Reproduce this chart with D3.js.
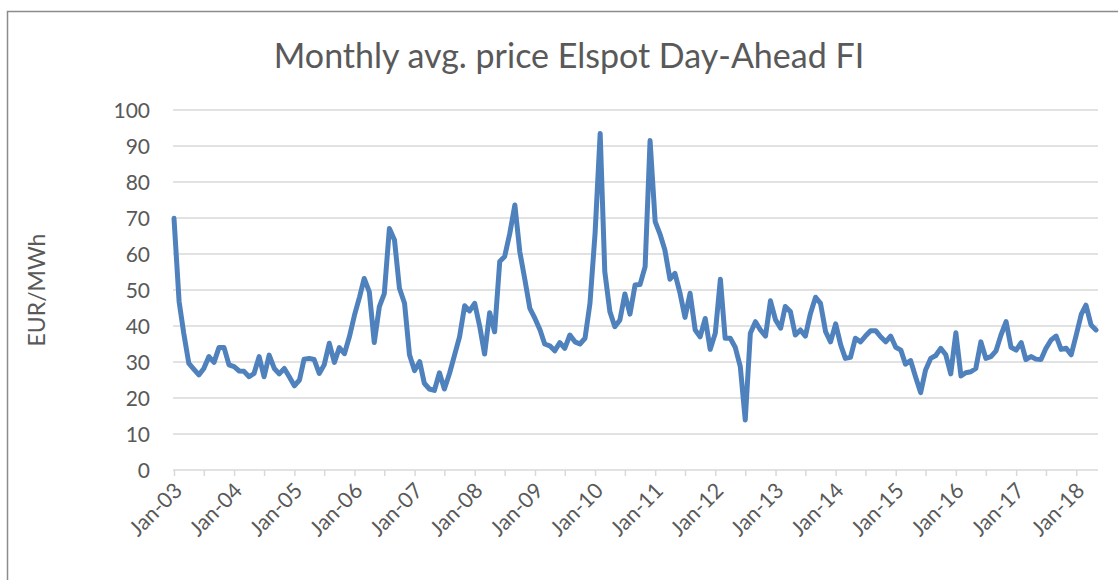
<!DOCTYPE html>
<html>
<head>
<meta charset="utf-8">
<script src="https://cdn.jsdelivr.net/npm/d3@7"></script>
<style>
  body { margin: 0; background: #fff; }
  text { font-family: Lato, "Open Sans", sans-serif; fill: #595959; }
</style>
</head>
<body>
<div id="chart"></div>
<script>
// monthly average price, EUR/MWh, Jan 2003 .. May 2018
const title = "Monthly avg. price Elspot Day-Ahead FI";
const yLabel = "EUR/MWh";
const firstMonth = new Date(2003, 0, 1);

const prices2003 = [69.9, 46.8, 38.0, 29.6, 28.0, 26.4, 28.2, 31.5, 29.9, 34.0, 34.0, 29.2];
const prices2004 = [28.7, 27.5, 27.4, 25.9, 26.8, 31.5, 25.9, 31.9, 28.2, 26.7, 28.2, 25.9];
const prices2005 = [23.4, 25.0, 30.8, 31.0, 30.7, 26.8, 29.2, 35.2, 29.9, 34.0, 32.3, 37.0];
const prices2006 = [43.0, 48.1, 53.2, 49.5, 35.4, 45.4, 49.0, 67.1, 63.9, 50.5, 46.3, 32.0];
const prices2007 = [27.6, 30.1, 24.1, 22.5, 22.1, 27.0, 22.5, 26.8, 32.0, 37.0, 45.6, 44.2];
const prices2008 = [46.3, 39.8, 32.2, 43.7, 38.4, 57.9, 59.3, 65.7, 73.6, 60.6, 52.8, 44.9];
const prices2009 = [42.1, 38.9, 35.0, 34.5, 33.1, 35.4, 33.8, 37.5, 35.6, 35.0, 36.6, 46.3];
const prices2010 = [65.7, 93.5, 55.1, 44.0, 39.8, 41.7, 48.9, 43.3, 51.4, 51.5, 56.5, 91.5];
const prices2011 = [69.0, 65.3, 61.1, 53.0, 54.6, 49.1, 42.4, 49.1, 38.9, 37.0, 42.1, 33.5];
const prices2012 = [38.0, 53.0, 36.6, 36.6, 34.1, 28.7, 13.9, 38.0, 41.2, 38.9, 37.2, 47.0];
const prices2013 = [41.7, 39.4, 45.4, 44.0, 37.5, 38.9, 37.2, 43.5, 48.0, 46.3, 38.4, 35.6];
const prices2014 = [40.6, 34.7, 31.0, 31.3, 36.6, 35.6, 37.2, 38.7, 38.7, 37.0, 35.6, 37.2];
const prices2015 = [34.1, 33.3, 29.4, 30.4, 25.9, 21.5, 27.8, 31.0, 31.8, 33.8, 32.0, 26.7];
const prices2016 = [38.1, 26.1, 27.0, 27.3, 28.2, 35.6, 31.0, 31.5, 33.1, 37.5, 41.2, 34.1];
const prices2017 = [33.3, 35.4, 30.7, 31.5, 30.8, 30.7, 33.8, 36.1, 37.2, 33.5, 33.8, 32.0];
const prices2018 = [37.5, 43.3, 45.8, 40.3, 38.9];

const yTicks = [0, 10, 20, 30, 40, 50, 60, 70, 80, 90, 100];

const prices = [].concat(prices2003, prices2004, prices2005, prices2006, prices2007,
    prices2008, prices2009, prices2010, prices2011, prices2012, prices2013,
    prices2014, prices2015, prices2016, prices2017, prices2018);

const data = prices.map((v, i) => ({ date: d3.timeMonth.offset(firstMonth, i), value: v }));

const width = 1118;
const height = 580;

const svg = d3.select("#chart").append("svg")
    .attr("width", width)
    .attr("height", height);

// chart frame
svg.append("rect")
    .attr("x", 7.5)
    .attr("y", 11.5)
    .attr("width", width + 10)
    .attr("height", height + 10)
    .attr("fill", "none")
    .attr("stroke", "#8c8c8c")
    .attr("stroke-width", 1.5);

const x = d3.scaleTime()
    .domain([firstMonth, data[data.length - 1].date])
    .range([174, 1096]);

const y = d3.scaleLinear()
    .domain([0, 100])
    .range([470, 110]);

// gridlines
svg.append("g")
    .selectAll("line")
    .data(yTicks.filter(d => d > 0))
    .join("line")
    .attr("x1", 173)
    .attr("x2", 1098)
    .attr("y1", d => y(d))
    .attr("y2", d => y(d))
    .attr("stroke", "#d9d9d9")
    .attr("stroke-width", 1.5);

// y tick labels
svg.append("g")
    .selectAll("text")
    .data(yTicks)
    .join("text")
    .attr("x", 150)
    .attr("y", d => y(d))
    .attr("dy", "0.36em")
    .attr("text-anchor", "end")
    .style("font-size", "21px")
    .text(d => d);

// x axis
const xAxis = d3.axisBottom(x)
    .ticks(d3.timeMonth.every(6))
    .tickSize(6)
    .tickFormat(d => d.getMonth() === 0 ? d3.timeFormat("%b-%y")(d) : "");

const gx = svg.append("g")
    .attr("transform", `translate(0,${y(0)})`)
    .call(xAxis);

gx.select(".domain")
    .attr("d", `M173,0H1098`)
    .attr("stroke", "#d9d9d9")
    .attr("stroke-width", 1.5);

gx.selectAll(".tick line")
    .attr("stroke", "#d9d9d9")
    .attr("stroke-width", 1.5);

gx.selectAll(".tick text")
    .attr("y", 0)
    .attr("dy", 0)
    .attr("text-anchor", "end")
    .attr("transform", "translate(9,22) rotate(-45)")
    .style("font-size", "21.5px")
    .style("font-family", "Lato, 'Open Sans', sans-serif")
    .attr("fill", "#595959");

// price line
const line = d3.line()
    .x(d => x(d.date))
    .y(d => y(d.value));

svg.append("path")
    .datum(data)
    .attr("d", line)
    .attr("fill", "none")
    .attr("stroke", "#4f81bd")
    .attr("stroke-width", 5)
    .attr("stroke-linejoin", "round")
    .attr("stroke-linecap", "round");

// title
svg.append("text")
    .attr("x", 569)
    .attr("y", 68)
    .attr("text-anchor", "middle")
    .style("font-size", "34px")
    .text(title);

// y axis label
svg.append("text")
    .attr("transform", "translate(45,290) rotate(-90)")
    .attr("text-anchor", "middle")
    .style("font-size", "23px")
    .text(yLabel);
</script>
</body>
</html>
